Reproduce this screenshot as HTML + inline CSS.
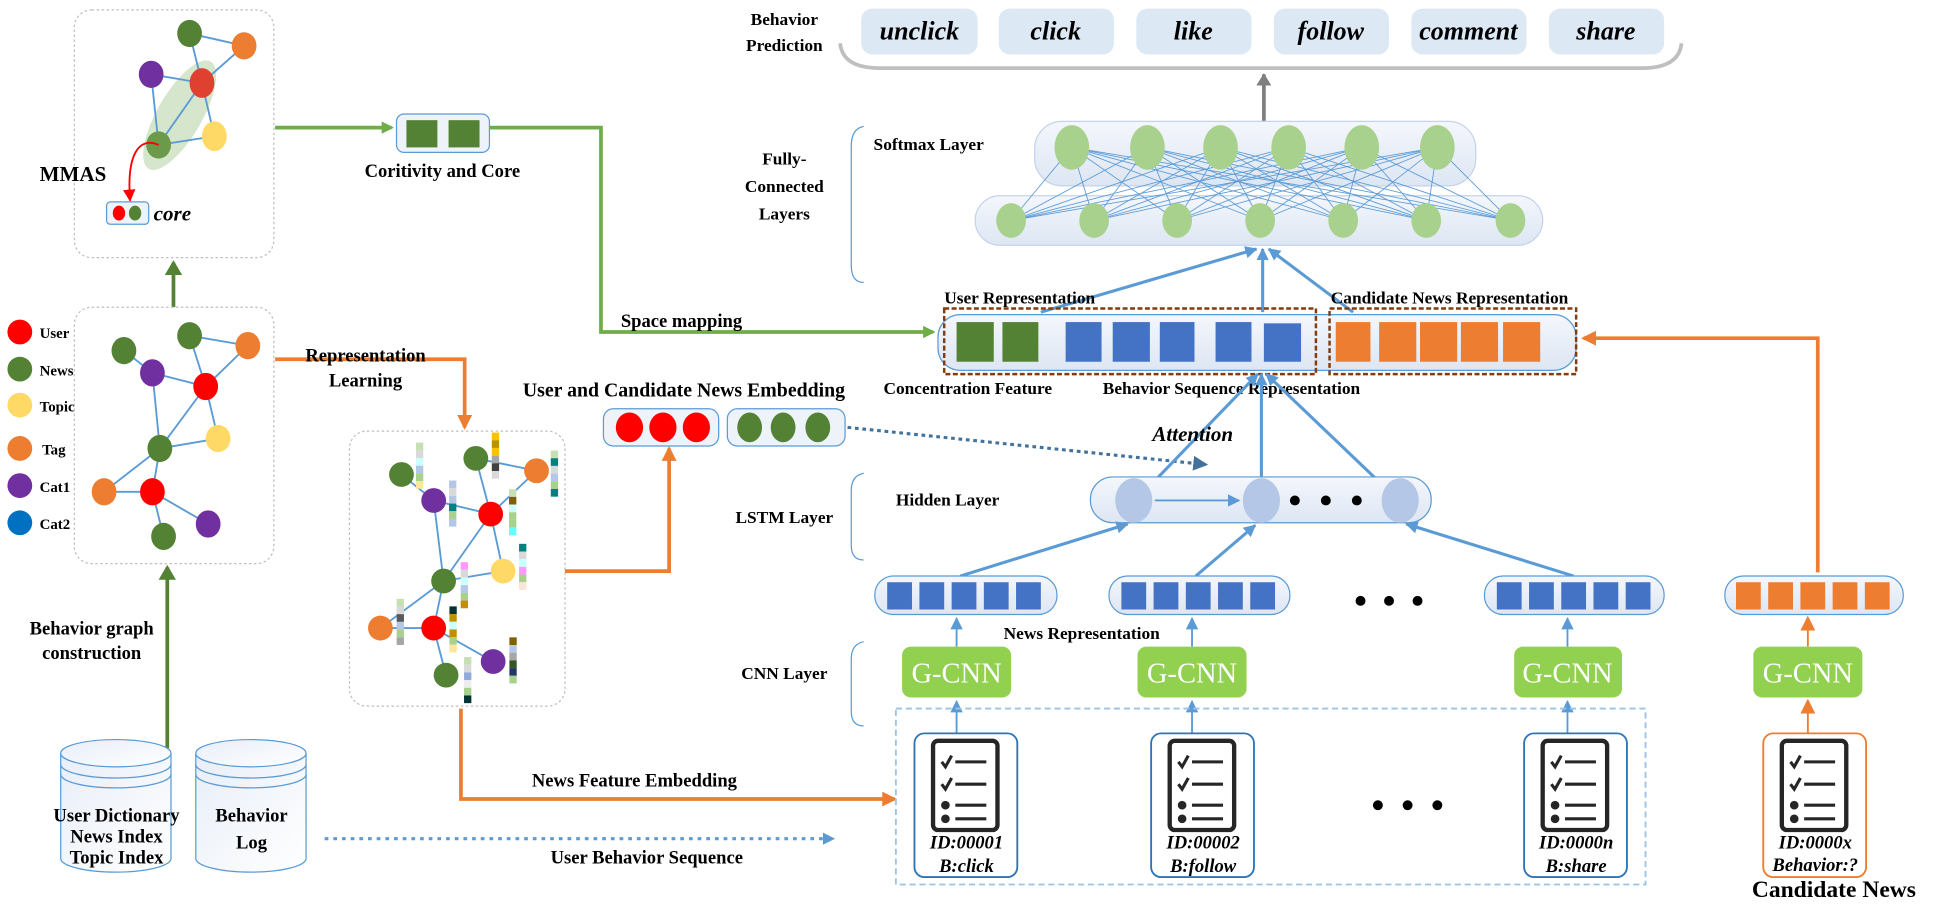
<!DOCTYPE html>
<html><head><meta charset="utf-8"><style>
html,body{margin:0;padding:0;background:#fff;}
svg{display:block;}
text{font-family:"Liberation Serif",serif;font-weight:bold;fill:#000;}
.it{font-style:italic;}
</style></head><body>
<svg width="1933" height="913" viewBox="0 0 1560 737" preserveAspectRatio="none" xmlns="http://www.w3.org/2000/svg">
<defs>
<marker id="ag" markerWidth="10" markerHeight="10" refX="8" refY="5" orient="auto" markerUnits="userSpaceOnUse"><path d="M0,0 L10,5 L0,10 z" fill="#70ad47"/></marker>
<marker id="adg" markerWidth="12" markerHeight="14" refX="10" refY="7" orient="auto" markerUnits="userSpaceOnUse"><path d="M0,0 L12,7 L0,14 z" fill="#548235"/></marker>
<marker id="ao" markerWidth="12" markerHeight="12" refX="10" refY="6" orient="auto" markerUnits="userSpaceOnUse"><path d="M0,0 L12,6 L0,12 z" fill="#ed7d31"/></marker>
<marker id="ab" markerWidth="10" markerHeight="10" refX="9" refY="5" orient="auto" markerUnits="userSpaceOnUse"><path d="M0,0 L10,5 L0,10 z" fill="#5b9bd5"/></marker>
<marker id="abd" markerWidth="12" markerHeight="12" refX="10" refY="6" orient="auto" markerUnits="userSpaceOnUse"><path d="M0,0 L12,6 L0,12 z" fill="#41719c"/></marker>
<marker id="agr" markerWidth="10" markerHeight="12" refX="9" refY="6" orient="auto" markerUnits="userSpaceOnUse"><path d="M0,0 L10,6 L0,12 z" fill="#7f7f7f"/></marker>
<marker id="ar" markerWidth="10" markerHeight="10" refX="9" refY="5" orient="auto" markerUnits="userSpaceOnUse"><path d="M0,0 L10,5 L0,10 z" fill="#f00"/></marker>
<linearGradient id="pill" x1="0" y1="0" x2="0" y2="1"><stop offset="0" stop-color="#f4f7fc"/><stop offset="1" stop-color="#dde6f3"/></linearGradient>
<linearGradient id="cyl" x1="0" y1="0" x2="1" y2="1"><stop offset="0" stop-color="#e8eef8"/><stop offset="1" stop-color="#fff"/></linearGradient>
</defs>

<!-- top-left box -->
<rect x="60" y="8" width="161" height="200" rx="14" fill="#fff" stroke="#bfbfbf" stroke-dasharray="2,2"/>
<ellipse cx="145" cy="93" rx="18" ry="50" transform="rotate(30 145 93)" fill="#d6e6cc"/>
<g stroke="#5b9bd5" stroke-width="1.5">
<line x1="153" y1="27" x2="197" y2="37"/><line x1="153" y1="27" x2="163" y2="67"/><line x1="197" y1="37" x2="163" y2="67"/>
<line x1="122" y1="60" x2="163" y2="67"/><line x1="122" y1="60" x2="128" y2="117"/><line x1="163" y1="67" x2="128" y2="117"/>
<line x1="163" y1="67" x2="173" y2="110"/><line x1="173" y1="110" x2="128" y2="117"/>
</g>
<ellipse cx="153" cy="27" rx="10" ry="11" fill="#548235"/>
<ellipse cx="197" cy="37" rx="10" ry="11" fill="#ed7d31"/>
<ellipse cx="122" cy="60" rx="10" ry="11" fill="#7030a0"/>
<ellipse cx="163" cy="67" rx="10" ry="12" fill="#e04030"/>
<ellipse cx="173" cy="110" rx="10" ry="12" fill="#ffd966"/>
<ellipse cx="128" cy="117" rx="10" ry="11" fill="#6a9a4a"/>
<path d="M128,117 C112,110 102,125 105,162" stroke="#f00" stroke-width="1.5" fill="none" marker-end="url(#ar)"/>
<text x="32" y="146" font-size="17">MMAS</text>
<rect x="86" y="163" width="34" height="18" rx="3" fill="#eef3fa" stroke="#5b9bd5"/>
<ellipse cx="96" cy="172" rx="5" ry="6" fill="#f00"/><ellipse cx="109" cy="172" rx="5" ry="6" fill="#548235"/>
<text x="124" y="178" font-size="17" class="it">core</text>

<line x1="140" y1="248" x2="140" y2="212" stroke="#548235" stroke-width="3" marker-end="url(#adg)"/>

<!-- legend -->
<g font-size="12">
<circle cx="16" cy="268" r="10" fill="#f00"/><text x="32" y="273">User</text>
<circle cx="16" cy="298" r="10" fill="#548235"/><text x="32" y="303">News</text>
<circle cx="16" cy="327" r="10" fill="#ffd966"/><text x="32" y="332">Topic</text>
<circle cx="16" cy="362" r="10" fill="#ed7d31"/><text x="34" y="367">Tag</text>
<circle cx="16" cy="392" r="10" fill="#7030a0"/><text x="32" y="397">Cat1</text>
<circle cx="16" cy="422" r="10" fill="#0070c0"/><text x="32" y="427">Cat2</text>
</g>

<!-- second box -->
<rect x="60" y="248" width="161" height="207" rx="14" fill="#fff" stroke="#bfbfbf" stroke-dasharray="2,2"/>
<g stroke="#5b9bd5" stroke-width="1.5">
<line x1="100" y1="283" x2="123" y2="301"/><line x1="153" y1="271" x2="200" y2="279"/><line x1="153" y1="271" x2="166" y2="312"/>
<line x1="200" y1="279" x2="166" y2="312"/><line x1="123" y1="301" x2="166" y2="312"/><line x1="123" y1="301" x2="129" y2="362"/>
<line x1="166" y1="312" x2="129" y2="362"/><line x1="166" y1="312" x2="176" y2="354"/><line x1="176" y1="354" x2="129" y2="362"/>
<line x1="129" y1="362" x2="84" y2="397"/><line x1="129" y1="362" x2="123" y2="397"/><line x1="84" y1="397" x2="123" y2="397"/>
<line x1="123" y1="397" x2="168" y2="423"/><line x1="123" y1="397" x2="132" y2="433"/>
</g>
<ellipse cx="100" cy="283" rx="10" ry="11" fill="#548235"/>
<ellipse cx="153" cy="271" rx="10" ry="11" fill="#548235"/>
<ellipse cx="200" cy="279" rx="10" ry="11" fill="#ed7d31"/>
<ellipse cx="123" cy="301" rx="10" ry="11" fill="#7030a0"/>
<ellipse cx="166" cy="312" rx="10" ry="11" fill="#f00"/>
<ellipse cx="176" cy="354" rx="10" ry="11" fill="#ffd966"/>
<ellipse cx="129" cy="362" rx="10" ry="11" fill="#548235"/>
<ellipse cx="84" cy="397" rx="10" ry="11" fill="#ed7d31"/>
<ellipse cx="123" cy="397" rx="10" ry="11" fill="#f00"/>
<ellipse cx="168" cy="423" rx="10" ry="11" fill="#7030a0"/>
<ellipse cx="132" cy="433" rx="10" ry="11" fill="#548235"/>

<text x="74" y="512" font-size="15" text-anchor="middle">Behavior graph</text>
<text x="74" y="532" font-size="15" text-anchor="middle">construction</text>
<line x1="135" y1="604" x2="135" y2="458" stroke="#548235" stroke-width="3" marker-end="url(#adg)"/>

<!-- cylinders -->
<g fill="url(#cyl)" stroke="#5b9bd5" stroke-width="1">
<path d="M49,608 L49,693 A44.5,11 0 0 0 138,693 L138,608"/>
<ellipse cx="93.5" cy="608" rx="44.5" ry="11"/>
<path d="M49,617 A44.5,11 0 0 0 138,617 M49,625 A44.5,11 0 0 0 138,625" fill="none"/>
<path d="M158,608 L158,693 A44.5,11 0 0 0 247,693 L247,608"/>
<ellipse cx="202.5" cy="608" rx="44.5" ry="11"/>
<path d="M158,617 A44.5,11 0 0 0 247,617 M158,625 A44.5,11 0 0 0 247,625" fill="none"/>
</g>
<g font-size="15" text-anchor="middle">
<text x="94" y="663">User Dictionary</text><text x="94" y="680">News Index</text><text x="94" y="697">Topic Index</text>
<text x="203" y="663">Behavior</text><text x="203" y="685">Log</text>
</g>
<line x1="262" y1="677" x2="673" y2="677" stroke="#5b9bd5" stroke-width="2.5" stroke-dasharray="3,4" marker-end="url(#ab)"/>
<text x="522" y="697" font-size="15" text-anchor="middle">User Behavior Sequence</text>

<!-- coritivity -->
<line x1="222" y1="103" x2="316" y2="103" stroke="#70ad47" stroke-width="3" marker-end="url(#ag)"/>
<rect x="320" y="92" width="75" height="31" rx="6" fill="#eef3fa" stroke="#5b9bd5"/>
<rect x="328" y="97" width="25" height="22" fill="#548235"/><rect x="362" y="97" width="25" height="22" fill="#548235"/>
<text x="357" y="143" font-size="15" text-anchor="middle">Coritivity and Core</text>
<polyline points="395,103 485,103 485,268 753,268" stroke="#70ad47" stroke-width="3" fill="none" marker-end="url(#ag)"/>
<text x="550" y="264" font-size="15" text-anchor="middle">Space mapping</text>

<polyline points="222,290 375,290 375,345" stroke="#ed7d31" stroke-width="3" fill="none" marker-end="url(#ao)"/>
<text x="295" y="292" font-size="15" text-anchor="middle">Representation</text>
<text x="295" y="312" font-size="15" text-anchor="middle">Learning</text>

<!-- middle graph box -->
<rect x="282" y="348" width="174" height="222" rx="14" fill="#fff" stroke="#bfbfbf" stroke-dasharray="2,2"/>
<g stroke="#5b9bd5" stroke-width="1.5">
<line x1="324" y1="383" x2="350" y2="404"/><line x1="384" y1="370" x2="433" y2="380"/><line x1="384" y1="370" x2="396" y2="415"/>
<line x1="433" y1="380" x2="396" y2="415"/><line x1="350" y1="404" x2="396" y2="415"/><line x1="350" y1="404" x2="358" y2="469"/>
<line x1="396" y1="415" x2="358" y2="469"/><line x1="396" y1="415" x2="406" y2="461"/><line x1="406" y1="461" x2="358" y2="469"/>
<line x1="358" y1="469" x2="307" y2="507"/><line x1="358" y1="469" x2="350" y2="507"/><line x1="307" y1="507" x2="350" y2="507"/>
<line x1="350" y1="507" x2="398" y2="534"/><line x1="350" y1="507" x2="360" y2="545"/>
</g>
<ellipse cx="324" cy="383" rx="10" ry="10" fill="#548235"/>
<ellipse cx="384" cy="370" rx="10" ry="10" fill="#548235"/>
<ellipse cx="433" cy="380" rx="10" ry="10" fill="#ed7d31"/>
<ellipse cx="350" cy="404" rx="10" ry="10" fill="#7030a0"/>
<ellipse cx="396" cy="415" rx="10" ry="10" fill="#f00"/>
<ellipse cx="406" cy="461" rx="10" ry="10" fill="#ffd966"/>
<ellipse cx="358" cy="469" rx="10" ry="10" fill="#548235"/>
<ellipse cx="307" cy="507" rx="10" ry="10" fill="#ed7d31"/>
<ellipse cx="350" cy="507" rx="10" ry="10" fill="#f00"/>
<ellipse cx="398" cy="534" rx="10" ry="10" fill="#7030a0"/>
<ellipse cx="360" cy="545" rx="10" ry="10" fill="#548235"/>
<g>
<g transform="translate(335.7,357.3)"><rect y="0" width="5.9" height="6.2" fill="#c6e0b4"/><rect y="6.2" width="5.9" height="6.2" fill="#d9d9d9"/><rect y="12.4" width="5.9" height="6.2" fill="#ccffff"/><rect y="18.6" width="5.9" height="6.2" fill="#b4c7e7"/><rect y="24.8" width="5.9" height="6.2" fill="#a9d18e"/><rect y="31" width="5.9" height="6.2" fill="#ffe699"/></g>
<g transform="translate(396.9,349.2)"><rect y="0" width="5.9" height="6.2" fill="#ffc000"/><rect y="6.2" width="5.9" height="6.2" fill="#bf9000"/><rect y="12.4" width="5.9" height="6.2" fill="#ffc000"/><rect y="18.6" width="5.9" height="6.2" fill="#a6a6a6"/><rect y="24.8" width="5.9" height="6.2" fill="#404040"/><rect y="31" width="5.9" height="6.2" fill="#d9d9d9"/></g>
<g transform="translate(444.5,363.7)"><rect y="0" width="5.9" height="6.2" fill="#c6e0b4"/><rect y="6.2" width="5.9" height="6.2" fill="#008080"/><rect y="12.4" width="5.9" height="6.2" fill="#d9d9d9"/><rect y="18.6" width="5.9" height="6.2" fill="#b4c7e7"/><rect y="24.8" width="5.9" height="6.2" fill="#a9d18e"/><rect y="31" width="5.9" height="6.2" fill="#008080"/></g>
<g transform="translate(362.4,387.9)"><rect y="0" width="5.9" height="6.2" fill="#b4c7e7"/><rect y="6.2" width="5.9" height="6.2" fill="#d9d9d9"/><rect y="12.4" width="5.9" height="6.2" fill="#b4c7e7"/><rect y="18.6" width="5.9" height="6.2" fill="#008080"/><rect y="24.8" width="5.9" height="6.2" fill="#a9d18e"/><rect y="31" width="5.9" height="6.2" fill="#b4c7e7"/></g>
<g transform="translate(410.8,394.9)"><rect y="0" width="5.9" height="6.2" fill="#c6e0b4"/><rect y="6.2" width="5.9" height="6.2" fill="#7f6000"/><rect y="12.4" width="5.9" height="6.2" fill="#ccffff"/><rect y="18.6" width="5.9" height="6.2" fill="#a9d18e"/><rect y="24.8" width="5.9" height="6.2" fill="#a9d18e"/><rect y="31" width="5.9" height="6.2" fill="#66ffff"/></g>
<g transform="translate(418.9,439)"><rect y="0" width="5.9" height="6.2" fill="#008080"/><rect y="6.2" width="5.9" height="6.2" fill="#d9d9d9"/><rect y="12.4" width="5.9" height="6.2" fill="#ccffff"/><rect y="18.6" width="5.9" height="6.2" fill="#ff99ff"/><rect y="24.8" width="5.9" height="6.2" fill="#a9d18e"/><rect y="31" width="5.9" height="6.2" fill="#fbe5d6"/></g>
<g transform="translate(371.8,453.8)"><rect y="0" width="5.9" height="6.2" fill="#ff99ff"/><rect y="6.2" width="5.9" height="6.2" fill="#d9d9d9"/><rect y="12.4" width="5.9" height="6.2" fill="#ccffff"/><rect y="18.6" width="5.9" height="6.2" fill="#b4c7e7"/><rect y="24.8" width="5.9" height="6.2" fill="#a9d18e"/><rect y="31" width="5.9" height="6.2" fill="#bf9000"/></g>
<g transform="translate(320.1,483.4)"><rect y="0" width="5.9" height="6.2" fill="#c6e0b4"/><rect y="6.2" width="5.9" height="6.2" fill="#d9d9d9"/><rect y="12.4" width="5.9" height="6.2" fill="#595959"/><rect y="18.6" width="5.9" height="6.2" fill="#b4c7e7"/><rect y="24.8" width="5.9" height="6.2" fill="#a9d18e"/><rect y="31" width="5.9" height="6.2" fill="#a6a6a6"/></g>
<g transform="translate(362.7,489.5)"><rect y="0" width="5.9" height="6.2" fill="#003333"/><rect y="6.2" width="5.9" height="6.2" fill="#bf9000"/><rect y="12.4" width="5.9" height="6.2" fill="#ccffff"/><rect y="18.6" width="5.9" height="6.2" fill="#bf9000"/><rect y="24.8" width="5.9" height="6.2" fill="#a9d18e"/><rect y="31" width="5.9" height="6.2" fill="#ffe699"/></g>
<g transform="translate(411.1,514.5)"><rect y="0" width="5.9" height="6.2" fill="#7f6000"/><rect y="6.2" width="5.9" height="6.2" fill="#b4c7e7"/><rect y="12.4" width="5.9" height="6.2" fill="#a6a6a6"/><rect y="18.6" width="5.9" height="6.2" fill="#375623"/><rect y="24.8" width="5.9" height="6.2" fill="#203864"/><rect y="31" width="5.9" height="6.2" fill="#a9d18e"/></g>
<g transform="translate(374.5,530.4)"><rect y="0" width="5.9" height="6.2" fill="#c6e0b4"/><rect y="6.2" width="5.9" height="6.2" fill="#d9d9d9"/><rect y="12.4" width="5.9" height="6.2" fill="#8faadc"/><rect y="18.6" width="5.9" height="6.2" fill="#ededed"/><rect y="24.8" width="5.9" height="6.2" fill="#a9d18e"/><rect y="31" width="5.9" height="6.2" fill="#003333"/></g>
</g>

<polyline points="456,461 540,461 540,362" stroke="#ed7d31" stroke-width="3" fill="none" marker-end="url(#ao)"/>
<polyline points="372,572 372,645 722,645" stroke="#ed7d31" stroke-width="3" fill="none" marker-end="url(#ao)"/>
<text x="512" y="635" font-size="15" text-anchor="middle">News Feature Embedding</text>

<!-- embeddings -->
<text x="552" y="320" font-size="16" text-anchor="middle">User and Candidate News Embedding</text>
<rect x="487" y="330" width="93" height="30" rx="8" fill="#eef3fa" stroke="#5b9bd5"/>
<ellipse cx="508" cy="345" rx="11" ry="12" fill="#f00"/><ellipse cx="535" cy="345" rx="11" ry="12" fill="#f00"/><ellipse cx="562" cy="345" rx="11" ry="12" fill="#f00"/>
<rect x="587" y="330" width="95" height="30" rx="8" fill="#eef3fa" stroke="#5b9bd5"/>
<ellipse cx="605" cy="345" rx="10" ry="12" fill="#548235"/><ellipse cx="632" cy="345" rx="10" ry="12" fill="#548235"/><ellipse cx="660" cy="345" rx="10" ry="12" fill="#548235"/>
<line x1="684" y1="345" x2="973" y2="375" stroke="#41719c" stroke-width="2.5" stroke-dasharray="3,3" marker-end="url(#abd)"/>

<!-- behavior prediction -->
<text x="633" y="20" font-size="14" text-anchor="middle">Behavior</text>
<text x="633" y="41" font-size="14" text-anchor="middle">Prediction</text>
<path d="M678,35 Q680,55 710,55 L1325,55 Q1355,55 1357,35" stroke="#bfbfbf" stroke-width="3" fill="none"/>
<g font-size="21" class="it" text-anchor="middle">
<rect x="695" y="7" width="94" height="37" rx="9" fill="#dde8f5"/><text x="742" y="32" class="it">unclick</text>
<rect x="806" y="7" width="93" height="37" rx="9" fill="#dde8f5"/><text x="852" y="32" class="it">click</text>
<rect x="917" y="7" width="93" height="37" rx="9" fill="#dde8f5"/><text x="963" y="32" class="it">like</text>
<rect x="1028" y="7" width="93" height="37" rx="9" fill="#dde8f5"/><text x="1074" y="32" class="it">follow</text>
<rect x="1139" y="7" width="93" height="37" rx="9" fill="#dde8f5"/><text x="1185" y="32" class="it">comment</text>
<rect x="1250" y="7" width="93" height="37" rx="9" fill="#dde8f5"/><text x="1296" y="32" class="it">share</text>
</g>
<line x1="1020" y1="98" x2="1020" y2="60" stroke="#7f7f7f" stroke-width="3" marker-end="url(#agr)"/>

<!-- FC -->
<text x="633" y="133" font-size="14" text-anchor="middle">Fully-</text>
<text x="633" y="155" font-size="14" text-anchor="middle">Connected</text>
<text x="633" y="177" font-size="14" text-anchor="middle">Layers</text>
<path d="M697,102 Q687,104 687,118 L687,214 Q687,228 697,228" stroke="#5b9bd5" fill="none"/>
<text x="705" y="121" font-size="14">Softmax Layer</text>
<rect x="835" y="98" width="356" height="52" rx="22" fill="url(#pill)" stroke="#c5d3ea"/>
<rect x="787" y="158" width="458" height="40" rx="20" fill="url(#pill)" stroke="#c5d3ea"/>
<g stroke="#5b9bd5" stroke-width="0.7">
<line x1="865" y1="119" x2="816" y2="178"/><line x1="865" y1="119" x2="883" y2="178"/><line x1="865" y1="119" x2="950" y2="178"/><line x1="865" y1="119" x2="1017" y2="178"/><line x1="865" y1="119" x2="1084" y2="178"/><line x1="865" y1="119" x2="1151" y2="178"/><line x1="865" y1="119" x2="1219" y2="178"/>
<line x1="926" y1="119" x2="816" y2="178"/><line x1="926" y1="119" x2="883" y2="178"/><line x1="926" y1="119" x2="950" y2="178"/><line x1="926" y1="119" x2="1017" y2="178"/><line x1="926" y1="119" x2="1084" y2="178"/><line x1="926" y1="119" x2="1151" y2="178"/><line x1="926" y1="119" x2="1219" y2="178"/>
<line x1="985" y1="119" x2="816" y2="178"/><line x1="985" y1="119" x2="883" y2="178"/><line x1="985" y1="119" x2="950" y2="178"/><line x1="985" y1="119" x2="1017" y2="178"/><line x1="985" y1="119" x2="1084" y2="178"/><line x1="985" y1="119" x2="1151" y2="178"/><line x1="985" y1="119" x2="1219" y2="178"/>
<line x1="1040" y1="119" x2="816" y2="178"/><line x1="1040" y1="119" x2="883" y2="178"/><line x1="1040" y1="119" x2="950" y2="178"/><line x1="1040" y1="119" x2="1017" y2="178"/><line x1="1040" y1="119" x2="1084" y2="178"/><line x1="1040" y1="119" x2="1151" y2="178"/><line x1="1040" y1="119" x2="1219" y2="178"/>
<line x1="1099" y1="119" x2="816" y2="178"/><line x1="1099" y1="119" x2="883" y2="178"/><line x1="1099" y1="119" x2="950" y2="178"/><line x1="1099" y1="119" x2="1017" y2="178"/><line x1="1099" y1="119" x2="1084" y2="178"/><line x1="1099" y1="119" x2="1151" y2="178"/><line x1="1099" y1="119" x2="1219" y2="178"/>
<line x1="1160" y1="119" x2="816" y2="178"/><line x1="1160" y1="119" x2="883" y2="178"/><line x1="1160" y1="119" x2="950" y2="178"/><line x1="1160" y1="119" x2="1017" y2="178"/><line x1="1160" y1="119" x2="1084" y2="178"/><line x1="1160" y1="119" x2="1151" y2="178"/><line x1="1160" y1="119" x2="1219" y2="178"/>
</g>
<g fill="#a9d18e">
<ellipse cx="865" cy="119" rx="14" ry="18"/><ellipse cx="926" cy="119" rx="14" ry="18"/><ellipse cx="985" cy="119" rx="14" ry="18"/><ellipse cx="1040" cy="119" rx="14" ry="18"/><ellipse cx="1099" cy="119" rx="14" ry="18"/><ellipse cx="1160" cy="119" rx="14" ry="18"/>
<ellipse cx="816" cy="178" rx="12" ry="14"/><ellipse cx="883" cy="178" rx="12" ry="14"/><ellipse cx="950" cy="178" rx="12" ry="14"/><ellipse cx="1017" cy="178" rx="12" ry="14"/><ellipse cx="1084" cy="178" rx="12" ry="14"/><ellipse cx="1151" cy="178" rx="12" ry="14"/><ellipse cx="1219" cy="178" rx="12" ry="14"/>
</g>
<g stroke="#5b9bd5" stroke-width="2.5">
<line x1="840" y1="252" x2="1014" y2="201" marker-end="url(#ab)"/>
<line x1="1019" y1="252" x2="1019" y2="201" marker-end="url(#ab)"/>
<line x1="1092" y1="252" x2="1024" y2="201" marker-end="url(#ab)"/>
</g>

<!-- concat bar -->
<rect x="757" y="254" width="515" height="45" rx="18" fill="url(#pill)" stroke="#5b9bd5"/>
<rect x="762" y="249" width="300" height="53" fill="none" stroke="#843c0c" stroke-width="2" stroke-dasharray="4,2"/>
<rect x="1073" y="249" width="199" height="53" fill="none" stroke="#843c0c" stroke-width="2" stroke-dasharray="4,2"/>
<g fill="#548235"><rect x="772" y="260" width="30" height="32"/><rect x="809" y="260" width="29" height="32"/></g>
<g fill="#4472c4"><rect x="860" y="260" width="29" height="32"/><rect x="898" y="260" width="30" height="32"/><rect x="936" y="260" width="28" height="32"/><rect x="981" y="260" width="29" height="32"/><rect x="1020" y="261" width="30" height="31"/></g>
<g fill="#ed7d31"><rect x="1078" y="260" width="28" height="32"/><rect x="1113" y="260" width="30" height="32"/><rect x="1146" y="260" width="30" height="32"/><rect x="1179" y="260" width="30" height="32"/><rect x="1213" y="260" width="30" height="32"/></g>
<text x="762" y="245" font-size="14">User Representation</text>
<text x="1074" y="245" font-size="14">Candidate News Representation</text>
<text x="713" y="318" font-size="14">Concentration Feature</text>
<text x="890" y="318" font-size="14">Behavior Sequence Representation</text>
<polyline points="1467,462 1467,273 1278,273" stroke="#ed7d31" stroke-width="3" fill="none" marker-end="url(#ao)"/>

<!-- attention -->
<g stroke="#5b9bd5" stroke-width="2.5">
<line x1="932" y1="388" x2="1015" y2="302" marker-end="url(#ab)"/>
<line x1="1018" y1="388" x2="1018" y2="302" marker-end="url(#ab)"/>
<line x1="1112" y1="388" x2="1022" y2="302" marker-end="url(#ab)"/>
</g>
<text x="930" y="356" font-size="17" class="it">Attention</text>

<!-- LSTM -->
<text x="633" y="422" font-size="14" text-anchor="middle">LSTM Layer</text>
<path d="M697,382 Q687,384 687,396 L687,440 Q687,452 697,452" stroke="#5b9bd5" fill="none"/>
<text x="723" y="408" font-size="14">Hidden Layer</text>
<rect x="880" y="385" width="275" height="37" rx="18" fill="url(#pill)" stroke="#5b9bd5"/>
<g fill="#b4c7e7"><ellipse cx="915" cy="404" rx="15" ry="18"/><ellipse cx="1018" cy="404" rx="15" ry="18"/><ellipse cx="1130" cy="404" rx="15" ry="18"/></g>
<line x1="932" y1="404" x2="1000" y2="404" stroke="#5b9bd5" stroke-width="1.5" marker-end="url(#ab)"/>
<g fill="#000"><circle cx="1045" cy="404" r="4"/><circle cx="1070" cy="404" r="4"/><circle cx="1095" cy="404" r="4"/></g>

<!-- news reps -->
<g stroke="#5b9bd5" stroke-width="2.5">
<line x1="775" y1="465" x2="910" y2="423" marker-end="url(#ab)"/>
<line x1="965" y1="465" x2="1013" y2="424" marker-end="url(#ab)"/>
<line x1="1270" y1="465" x2="1135" y2="423" marker-end="url(#ab)"/>
</g>
<g>
<rect x="706" y="465" width="147" height="31" rx="15" fill="url(#pill)" stroke="#5b9bd5"/>
<rect x="895" y="465" width="146" height="31" rx="15" fill="url(#pill)" stroke="#5b9bd5"/>
<rect x="1198" y="465" width="145" height="31" rx="15" fill="url(#pill)" stroke="#5b9bd5"/>
<rect x="1392" y="465" width="144" height="31" rx="15" fill="url(#pill)" stroke="#5b9bd5"/>
</g>
<g fill="#4472c4">
<rect x="716" y="470" width="20" height="22"/><rect x="742" y="470" width="20" height="22"/><rect x="768" y="470" width="20" height="22"/><rect x="794" y="470" width="20" height="22"/><rect x="820" y="470" width="20" height="22"/>
<rect x="905" y="470" width="20" height="22"/><rect x="931" y="470" width="20" height="22"/><rect x="957" y="470" width="20" height="22"/><rect x="983" y="470" width="20" height="22"/><rect x="1009" y="470" width="20" height="22"/>
<rect x="1208" y="470" width="20" height="22"/><rect x="1234" y="470" width="20" height="22"/><rect x="1260" y="470" width="20" height="22"/><rect x="1286" y="470" width="20" height="22"/><rect x="1312" y="470" width="20" height="22"/>
</g>
<g fill="#ed7d31"><rect x="1401" y="470" width="20" height="22"/><rect x="1427" y="470" width="20" height="22"/><rect x="1453" y="470" width="20" height="22"/><rect x="1479" y="470" width="20" height="22"/><rect x="1505" y="470" width="20" height="22"/></g>
<g fill="#000"><circle cx="1098" cy="485" r="4"/><circle cx="1121" cy="485" r="4"/><circle cx="1144" cy="485" r="4"/></g>

<!-- CNN -->
<text x="633" y="548" font-size="14" text-anchor="middle">CNN Layer</text>
<path d="M697,518 Q687,520 687,532 L687,574 Q687,586 697,586" stroke="#5b9bd5" fill="none"/>
<text x="873" y="516" font-size="14" text-anchor="middle">News Representation</text>
<g stroke="#5b9bd5" stroke-width="1.5">
<line x1="772" y1="522" x2="772" y2="499" marker-end="url(#ab)"/><line x1="962" y1="522" x2="962" y2="499" marker-end="url(#ab)"/><line x1="1265" y1="522" x2="1265" y2="499" marker-end="url(#ab)"/>
<line x1="772" y1="592" x2="772" y2="566" marker-end="url(#ab)"/><line x1="962" y1="592" x2="962" y2="566" marker-end="url(#ab)"/><line x1="1265" y1="592" x2="1265" y2="566" marker-end="url(#ab)"/>
</g>
<g stroke="#ed7d31" stroke-width="1.5">
<line x1="1459" y1="522" x2="1459" y2="499" marker-end="url(#ao)"/><line x1="1459" y1="592" x2="1459" y2="566" marker-end="url(#ao)"/>
</g>
<g fill="#92d050">
<rect x="728" y="522" width="88" height="41" rx="7"/><rect x="918" y="522" width="88" height="41" rx="7"/><rect x="1222" y="522" width="87" height="41" rx="7"/><rect x="1415" y="522" width="88" height="41" rx="7"/>
</g>
<g font-size="23" text-anchor="middle">
<text x="772" y="551" style="fill:#fff;font-weight:normal">G-CNN</text><text x="962" y="551" style="fill:#fff;font-weight:normal">G-CNN</text><text x="1265" y="551" style="fill:#fff;font-weight:normal">G-CNN</text><text x="1459" y="551" style="fill:#fff;font-weight:normal">G-CNN</text>
</g>

<!-- docs -->
<rect x="723" y="572" width="605" height="142" fill="none" stroke="#9dc3e6" stroke-width="1.5" stroke-dasharray="5,3"/>
<rect x="738" y="592" width="83" height="116" rx="8" fill="#fff" stroke="#2e75b6" stroke-width="1.5"/>
<rect x="929" y="592" width="83" height="116" rx="8" fill="#fff" stroke="#2e75b6" stroke-width="1.5"/>
<rect x="1230" y="592" width="83" height="116" rx="8" fill="#fff" stroke="#2e75b6" stroke-width="1.5"/>
<rect x="1423" y="592" width="83" height="116" rx="8" fill="#fff" stroke="#ed7d31" stroke-width="1.5"/>
<g fill="none" stroke="#262626" stroke-width="3">
<g transform="translate(753,598)"><rect x="0" y="0" width="52" height="72" rx="4" stroke-width="3.5"/><path d="M7,17 l3,4 l5,-9 M18,17 h25 M7,35 l3,4 l5,-9 M18,35 h25 M18,52 h25 M18,63 h25" stroke-width="2.5"/><circle cx="10" cy="52" r="2" fill="#262626"/><circle cx="10" cy="63" r="2" fill="#262626"/></g>
<g transform="translate(944,598)"><rect x="0" y="0" width="52" height="72" rx="4" stroke-width="3.5"/><path d="M7,17 l3,4 l5,-9 M18,17 h25 M7,35 l3,4 l5,-9 M18,35 h25 M18,52 h25 M18,63 h25" stroke-width="2.5"/><circle cx="10" cy="52" r="2" fill="#262626"/><circle cx="10" cy="63" r="2" fill="#262626"/></g>
<g transform="translate(1245,598)"><rect x="0" y="0" width="52" height="72" rx="4" stroke-width="3.5"/><path d="M7,17 l3,4 l5,-9 M18,17 h25 M7,35 l3,4 l5,-9 M18,35 h25 M18,52 h25 M18,63 h25" stroke-width="2.5"/><circle cx="10" cy="52" r="2" fill="#262626"/><circle cx="10" cy="63" r="2" fill="#262626"/></g>
<g transform="translate(1438,598)"><rect x="0" y="0" width="52" height="72" rx="4" stroke-width="3.5"/><path d="M7,17 l3,4 l5,-9 M18,17 h25 M7,35 l3,4 l5,-9 M18,35 h25 M18,52 h25 M18,63 h25" stroke-width="2.5"/><circle cx="10" cy="52" r="2" fill="#262626"/><circle cx="10" cy="63" r="2" fill="#262626"/></g>
</g>
<g font-size="15" text-anchor="middle">
<text x="780" y="685" class="it">ID:00001</text><text x="780" y="704" class="it">B:click</text>
<text x="971" y="685" class="it">ID:00002</text><text x="971" y="704" class="it">B:follow</text>
<text x="1272" y="685" class="it">ID:0000n</text><text x="1272" y="704" class="it">B:share</text>
<text x="1465" y="685" class="it">ID:0000x</text><text x="1465" y="703" class="it">Behavior:?</text>
</g>
<g fill="#000"><circle cx="1112" cy="650" r="4"/><circle cx="1136" cy="650" r="4"/><circle cx="1160" cy="650" r="4"/></g>
<text x="1480" y="724" font-size="19" text-anchor="middle">Candidate News</text>
</svg>
</body></html>
